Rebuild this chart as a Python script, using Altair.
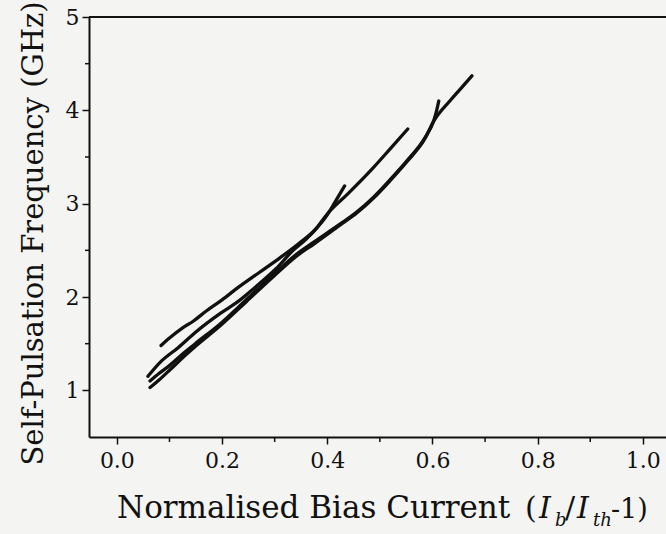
import altair as alt
import pandas as pd

# ---- data ----
curve_a_x = [0.084, 0.10, 0.125, 0.145, 0.17, 0.20, 0.23, 0.27, 0.31, 0.343, 0.375, 0.40, 0.415, 0.433]
curve_a_y = [1.48, 1.56, 1.67, 1.74, 1.85, 1.97, 2.10, 2.26, 2.42, 2.56, 2.71, 2.88, 3.02, 3.19]

curve_b_x = [0.059, 0.084, 0.117, 0.149, 0.198, 0.230, 0.262, 0.302, 0.335, 0.36, 0.38, 0.40, 0.44, 0.485, 0.52, 0.553]
curve_b_y = [1.15, 1.31, 1.46, 1.62, 1.83, 1.95, 2.10, 2.30, 2.50, 2.62, 2.74, 2.89, 3.11, 3.37, 3.59, 3.80]

curve_c_x = [0.063, 0.08, 0.101, 0.125, 0.149, 0.198, 0.246, 0.294, 0.342, 0.375, 0.424, 0.456, 0.488, 0.52, 0.553, 0.585, 0.603, 0.608, 0.612]
curve_c_y = [1.10, 1.18, 1.27, 1.39, 1.50, 1.72, 1.97, 2.22, 2.46, 2.59, 2.78, 2.91, 3.07, 3.26, 3.47, 3.70, 3.90, 4.00, 4.10]

curve_d_x = [0.063, 0.08, 0.101, 0.125, 0.149, 0.198, 0.246, 0.294, 0.342, 0.375, 0.424, 0.456, 0.488, 0.52, 0.553, 0.585, 0.603, 0.633, 0.655, 0.675]
curve_d_y = [1.03, 1.11, 1.22, 1.35, 1.47, 1.70, 1.95, 2.20, 2.44, 2.57, 2.77, 2.90, 3.06, 3.25, 3.46, 3.69, 3.89, 4.10, 4.24, 4.37]

x_major = [0.0, 0.2, 0.4, 0.6, 0.8, 1.0]
x_minor = [0.1, 0.3, 0.5, 0.7, 0.9]
y_major = [1, 2, 3, 4, 5]
y_minor = [1.5, 2.5, 3.5, 4.5]

x_domain = [-0.053, 1.044]
y_domain = [0.5, 5.0]

y_title = "Self-Pulsation Frequency (GHz)"

rows = []
for name, xs, ys in [("a", curve_a_x, curve_a_y), ("b", curve_b_x, curve_b_y),
                     ("c", curve_c_x, curve_c_y), ("d", curve_d_x, curve_d_y)]:
    for i, (xv, yv) in enumerate(zip(xs, ys)):
        rows.append({"curve": name, "x": xv, "y": yv, "order": i})
df = pd.DataFrame(rows)

W, H = 577, 420
FONT = "DejaVu Serif"
INK = "#111111"

xscale = alt.Scale(domain=x_domain, nice=False, zero=False)
yscale = alt.Scale(domain=y_domain, nice=False, zero=False)

x_axis = alt.Axis(values=x_major, format=".1f", title=None, grid=False,
                  tickSize=7, tickWidth=1.5, tickColor=INK,
                  domainColor=INK, domainWidth=2,
                  labelFont=FONT, labelFontSize=22, labelColor=INK,
                  labelPadding=6, labelFlush=False)
y_axis = alt.Axis(values=y_major, format="d", title=y_title, grid=False,
                  tickSize=7, tickWidth=1.5, tickColor=INK,
                  domainColor=INK, domainWidth=2,
                  labelFont=FONT, labelFontSize=22, labelColor=INK,
                  labelPadding=3, labelFlush=False,
                  titleFont=FONT, titleFontSize=29, titleFontWeight="normal",
                  titleColor=INK, titleAngle=-90, titleX=-47, titleY=H / 2 + 6,
                  titleAlign="center", titleBaseline="alphabetic")

X = alt.X("x:Q", scale=xscale, axis=x_axis)
Y = alt.Y("y:Q", scale=yscale, axis=y_axis)

lines = alt.Chart(df).mark_line(
    color=INK, strokeWidth=3.3, strokeCap="round", strokeJoin="round",
    interpolate="monotone"
).encode(x=X, y=Y, detail="curve:N", order="order:Q")

xminor = alt.Chart(pd.DataFrame({"x": x_minor})).mark_rule(color=INK, strokeWidth=1.5).encode(
    x=X, y=alt.value(H), y2=alt.value(H + 5),
)
yminor = alt.Chart(pd.DataFrame({"y": y_minor})).mark_rule(color=INK, strokeWidth=1.5).encode(
    y=Y, x=alt.value(-4), x2=alt.value(0),
)
topline = alt.Chart(pd.DataFrame({"y": [y_domain[1]]})).mark_rule(color=INK, strokeWidth=2).encode(
    y=Y, x=alt.value(0), x2=alt.value(W),
)

one = pd.DataFrame({"k": [0]})
BASE = 501
SUB = 509


def txt(s, px, py, size, italic=False):
    kw = dict(text=s, font=FONT, fontSize=size, color=INK, align="left",
              baseline="alphabetic")
    if italic:
        kw["fontStyle"] = "italic"
    return alt.Chart(one).mark_text(**kw).encode(x=alt.value(px), y=alt.value(py))


title_layers = [
    txt("Normalised Bias Current", 28, BASE, 31),
    txt("(", 436, BASE, 30),
    txt("I", 450, BASE, 30, italic=True),
    txt("b", 466, SUB, 18, italic=True),
    txt("/", 476, BASE, 30),
    txt("I", 488, BASE, 30, italic=True),
    txt("th", 504, SUB, 18, italic=True),
    txt("-1)", 522, BASE, 27),
]

chart = alt.layer(lines, xminor, yminor, topline, *title_layers).properties(
    width=W, height=H,
    autosize=alt.AutoSizeParams(type="none"),
    padding={"left": 89, "top": 17, "right": 0, "bottom": 97},
    background="#f4f4f2",
).configure_view(stroke=None)

chart.save("out.html", embed_options={"renderer": "svg", "actions": False})
